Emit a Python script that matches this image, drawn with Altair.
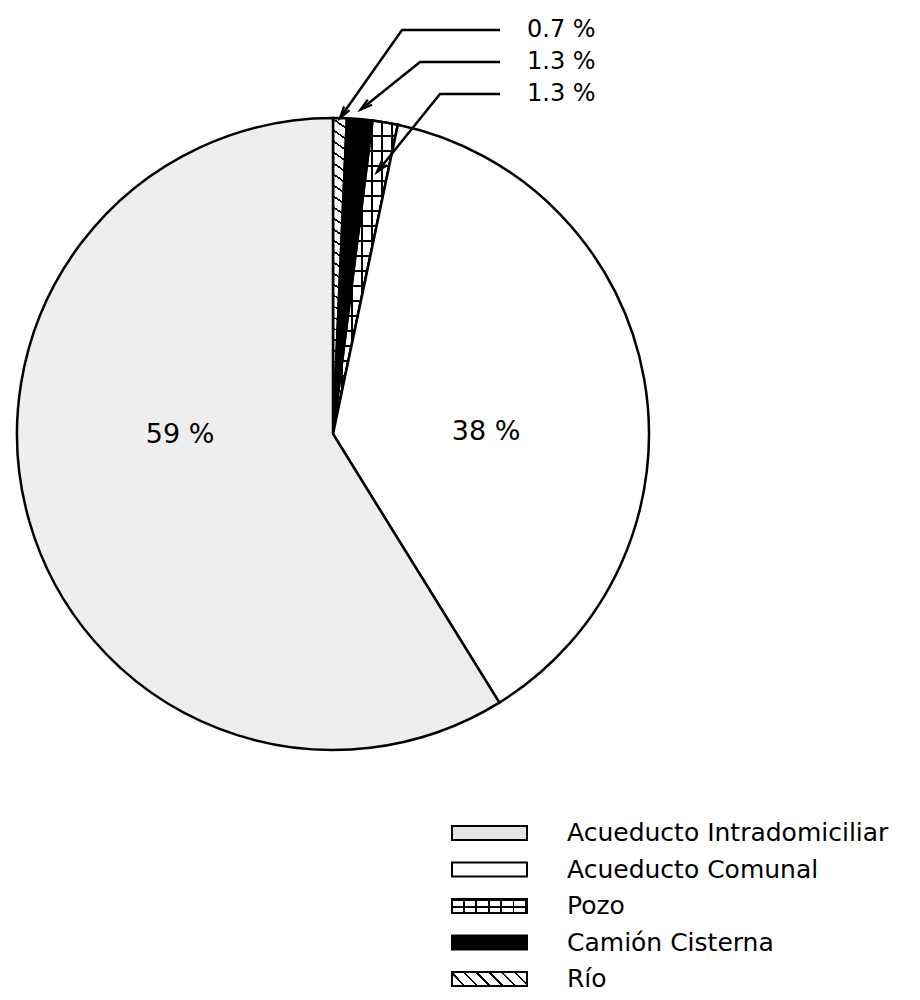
import math
import pandas as pd
import altair as alt

# ---------------- data ----------------
categories = ["Río", "Camión Cisterna", "Pozo", "Acueducto Comunal", "Acueducto Intradomiciliar"]  # clockwise from 12 o'clock
values = [0.7, 1.3, 1.3, 38, 59]
legend_order = ["Acueducto Intradomiciliar", "Acueducto Comunal", "Pozo", "Camión Cisterna", "Río"]
callout_categories = ["Río", "Camión Cisterna", "Pozo"]
inside_label_categories = ["Acueducto Intradomiciliar", "Acueducto Comunal"]

# ---------------- layout / style ----------------
W, H = 904, 984
CX, CY, R = 325, 426, 316
CALLOUT_Y = [22, 54, 86]
CALLOUT_ELBOW_X = [394, 412, 432]
CALLOUT_LINE_X = 492
CALLOUT_TEXT_X = 519
CALLOUT_TIP_RF = [1.0, 1.03, 0.84]
INSIDE_LABEL_XY = [(172, 427), (478, 424)]
LEG_SYM_X, LEG_TEXT_X, LEG_Y0, LEG_DY = 481.5, 559, 825, 36.5
FONT = "DejaVu Sans"

total = sum(values)
starts, ends, acc = [], [], 0.0
for v in values:
    starts.append(acc)
    acc += v
    ends.append(acc)
pie_df = pd.DataFrame({"cat": categories, "value": values, "start": starts, "end": ends})
val_of = dict(zip(categories, values))
deg_of = {c: (s / total * 360, e / total * 360) for c, s, e in zip(categories, starts, ends)}


def pol(a_deg, r=R):
    a = math.radians(a_deg)
    return r * math.sin(a), -r * math.cos(a)


def wedge_bbox(a1, a2):
    pts = [(0.0, 0.0), pol(a1), pol(a2)]
    for k in (0, 90, 180, 270, 360):
        if a1 < k < a2:
            pts.append(pol(k))
    xs = [p[0] for p in pts]
    ys = [p[1] for p in pts]
    return max(xs) - min(xs), max(ys) - min(ys)


def stripes(w, h, phi_deg, spacing, lw, color, bg):
    phi = math.radians(phi_deg)
    nx, ny = -math.sin(phi), math.cos(phi)
    A = nx * w / spacing
    B = ny * h / spacing
    ts = [0, A, B, A + B]
    tmin, tmax = min(ts), max(ts)
    L2 = A * A + B * B
    x1, y1 = A * tmin / L2, B * tmin / L2
    x2, y2 = A * tmax / L2, B * tmax / L2
    T = tmax - tmin
    f = lw / spacing
    stops = [(0.0, bg)]
    for k in range(math.floor(tmin) - 1, math.ceil(tmax) + 1):
        a = max((k - tmin) / T, 0.0)
        b = min((k + f - tmin) / T, 1.0)
        if b <= a:
            continue
        stops += [(a, bg), (a, color), (b, color), (b, bg)]
    stops.append((1.0, bg))
    return {
        "gradient": "linear",
        "x1": round(x1, 6), "y1": round(y1, 6), "x2": round(x2, 6), "y2": round(y2, 6),
        "stops": [{"offset": round(o, 6), "color": c} for o, c in stops],
    }


# pie fills
rio_w, rio_h = wedge_bbox(*deg_of["Río"])
pozo_w, pozo_h = wedge_bbox(*deg_of["Pozo"])
pie_fill = {
    "Río": stripes(rio_w, rio_h, 35, 9, 1.6, "black", "white"),
    "Camión Cisterna": "black",
    "Pozo": stripes(pozo_w, pozo_h, 0, 15, 1.6, "black", "white"),
    "Acueducto Comunal": "white",
    "Acueducto Intradomiciliar": "#eeeeee",
}
pie_overlay = {"Pozo": stripes(pozo_w, pozo_h, 90, 10, 1.6, "black", "transparent")}

# legend fills (symbol is 75 x 14 px)
SYM_W, SYM_H = 75, 14
leg_fill = {
    "Acueducto Intradomiciliar": "#e4e4e4",
    "Acueducto Comunal": "white",
    "Pozo": stripes(SYM_W, SYM_H, 0, 7, 1.6, "black", "white"),
    "Camión Cisterna": "black",
    "Río": stripes(SYM_W, SYM_H, 45, 9, 1.8, "black", "white"),
}
leg_overlay = {"Pozo": stripes(SYM_W, SYM_H, 90, 12.5, 1.6, "black", "transparent")}

hh = round(SYM_H / SYM_W, 4)
RECT_PATH = f"M-1,-{hh}L1,-{hh}L1,{hh}L-1,{hh}Z"
ARROW_PATH = "M-0.45,1.6L0,0L0.45,1.6"

SX = alt.Scale(domain=[0, W], range=[0, W], nice=False, zero=False)
SY = alt.Scale(domain=[0, H], range=[0, H], nice=False, zero=False)
TS = alt.Scale(domain=[0, total], range=[0, 2 * math.pi])

layers = []

# ---------------- pie ----------------
for c in categories:
    sub = pie_df[pie_df["cat"] == c]
    base = alt.Chart(sub).encode(
        theta=alt.Theta("start:Q", scale=TS, stack=False),
        theta2=alt.Theta2("end:Q"),
        x=alt.value(CX),
        y=alt.value(CY),
    )
    layers.append(base.mark_arc(outerRadius=R, fill=pie_fill[c], stroke="black", strokeWidth=2.5))
    if c in pie_overlay:
        layers.append(base.mark_arc(outerRadius=R, fill=pie_overlay[c], stroke="black", strokeWidth=2.5))

# ---------------- callouts ----------------
line_rows, arrow_rows, ctext_rows = [], [], []
for i, c in enumerate(callout_categories):
    a1, a2 = deg_of[c]
    tx, ty = pol((a1 + a2) / 2, R * CALLOUT_TIP_RF[i])
    tx, ty = CX + tx, CY + ty
    pts = [(CALLOUT_LINE_X, CALLOUT_Y[i]), (CALLOUT_ELBOW_X[i], CALLOUT_Y[i]), (tx, ty)]
    for s, (px, py) in enumerate(pts):
        line_rows.append({"id": i, "seq": s, "px": px, "py": py})
    dx, dy = tx - CALLOUT_ELBOW_X[i], ty - CALLOUT_Y[i]
    arrow_rows.append({"px": tx, "py": ty, "ang": (math.degrees(math.atan2(dx, -dy)) + 360) % 360})
    ctext_rows.append({"px": CALLOUT_TEXT_X, "py": CALLOUT_Y[i], "txt": f"{val_of[c]:g} %"})

layers.append(
    alt.Chart(pd.DataFrame(line_rows)).mark_line(color="black", strokeWidth=2.5).encode(
        x=alt.X("px:Q", scale=SX, axis=None),
        y=alt.Y("py:Q", scale=SY, axis=None),
        detail="id:N",
        order="seq:O",
    )
)
layers.append(
    alt.Chart(pd.DataFrame(arrow_rows)).mark_point(
        shape=ARROW_PATH, size=225, filled=False, stroke="black", strokeWidth=2.2, opacity=1
    ).encode(
        x=alt.X("px:Q", scale=SX, axis=None),
        y=alt.Y("py:Q", scale=SY, axis=None),
        angle=alt.Angle("ang:Q", scale=None),
    )
)
layers.append(
    alt.Chart(pd.DataFrame(ctext_rows)).mark_text(
        align="left", baseline="middle", fontSize=24, font=FONT, color="black"
    ).encode(
        x=alt.X("px:Q", scale=SX, axis=None),
        y=alt.Y("py:Q", scale=SY, axis=None),
        text="txt:N",
    )
)

# ---------------- inside labels ----------------
in_rows = [
    {"px": xy[0], "py": xy[1], "txt": f"{val_of[c]:g} %"}
    for c, xy in zip(inside_label_categories, INSIDE_LABEL_XY)
]
layers.append(
    alt.Chart(pd.DataFrame(in_rows)).mark_text(
        align="center", baseline="middle", fontSize=27, font=FONT, color="black"
    ).encode(
        x=alt.X("px:Q", scale=SX, axis=None),
        y=alt.Y("py:Q", scale=SY, axis=None),
        text="txt:N",
    )
)

# ---------------- legend ----------------
leg_df = pd.DataFrame({
    "cat": legend_order,
    "sx": [LEG_SYM_X] * len(legend_order),
    "tx": [LEG_TEXT_X] * len(legend_order),
    "ly": [LEG_Y0 + i * LEG_DY for i in range(len(legend_order))],
})
for c in legend_order:
    sub = leg_df[leg_df["cat"] == c]
    base = alt.Chart(sub).encode(
        x=alt.X("sx:Q", scale=SX, axis=None),
        y=alt.Y("ly:Q", scale=SY, axis=None),
    )
    layers.append(base.mark_point(shape=RECT_PATH, size=SYM_W * SYM_W, filled=True,
                                  fill=leg_fill[c], stroke="black", strokeWidth=2, opacity=1))
    if c in leg_overlay:
        layers.append(base.mark_point(shape=RECT_PATH, size=SYM_W * SYM_W, filled=True,
                                      fill=leg_overlay[c], stroke="black", strokeWidth=2, opacity=1))

layers.append(
    alt.Chart(leg_df).mark_text(
        align="left", baseline="middle", fontSize=25, font=FONT, color="black"
    ).encode(
        x=alt.X("tx:Q", scale=SX, axis=None),
        y=alt.Y("ly:Q", scale=SY, axis=None),
        text="cat:N",
    )
)

chart = (
    alt.layer(*layers)
    .properties(width=W, height=H, autosize="none", padding=0, background="white")
    .configure_view(stroke=None)
)

chart.save("out.html", embed_options={"renderer": "svg", "actions": False})
